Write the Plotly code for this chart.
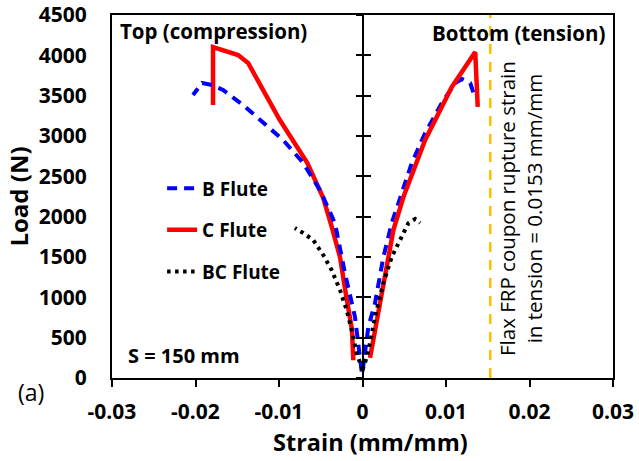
import plotly.graph_objects as go

# ---- data ----
b_top_strain = [-0.0001, -0.0009, -0.0021, -0.0033, -0.0051, -0.0071, -0.0095, -0.0119, -0.0143, -0.0167, -0.0180, -0.0192, -0.0203]
b_top_load = [80, 756, 1300, 1920, 2331, 2665, 2950, 3161, 3384, 3570, 3632, 3657, 3508]
b_bot_strain = [0.0000, 0.0007, 0.0015, 0.0025, 0.0035, 0.0045, 0.0059, 0.0075, 0.0095, 0.0111, 0.0119, 0.0129, 0.0135]
b_bot_load = [80, 632, 930, 1500, 1920, 2244, 2665, 3037, 3409, 3657, 3707, 3657, 3471]

c_top_strain = [-0.0011, -0.00126, -0.0020, -0.0027, -0.0037, -0.0047, -0.0066, -0.0099, -0.0137, -0.0149, -0.0179, -0.0179]
c_top_load = [220, 595, 1050, 1500, 1880, 2231, 2665, 3198, 3905, 4004, 4103, 3384]
c_bot_strain = [0.0009, 0.0015, 0.0021, 0.0029, 0.0037, 0.0049, 0.0075, 0.0107, 0.0123, 0.0135, 0.0138]
c_bot_load = [250, 595, 967, 1425, 1835, 2244, 2950, 3608, 3855, 4041, 3360]

bc_top_strain = [0.0000, -0.0007, -0.0013, -0.0019, -0.0027, -0.0037, -0.0047, -0.0059, -0.0071, -0.0081]
bc_top_load = [100, 310, 595, 843, 1091, 1339, 1525, 1710, 1797, 1860]
bc_bot_strain = [0.0000, 0.0003, 0.0009, 0.0015, 0.0025, 0.0035, 0.0045, 0.0055, 0.0063, 0.0069]
bc_bot_load = [100, 186, 434, 756, 1178, 1500, 1711, 1921, 1971, 1921]

rupture_strain = 0.0153
x_ticks = [-0.03, -0.02, -0.01, 0, 0.01, 0.02, 0.03]
x_tick_labels = ["-0.03", "-0.02", "-0.01", "0", "0.01", "0.02", "0.03"]
y_ticks = [0, 500, 1000, 1500, 2000, 2500, 3000, 3500, 4000, 4500]

FONT = "Open Sans"
BLUE = "#0000FF"
RED = "#FF0000"
BLACK = "#000000"
ORANGE = "#FFC000"

fig = go.Figure()

blue_line = dict(color=BLUE, width=4, dash="10px,7px")
red_line = dict(color=RED, width=4.5)
black_line = dict(color=BLACK, width=4, dash="3.5px,4.5px")

fig.add_trace(go.Scatter(x=b_bot_strain, y=b_bot_load, mode="lines", line=blue_line,
                         name="B Flute", legendgroup="b", showlegend=False))
fig.add_trace(go.Scatter(x=c_bot_strain, y=c_bot_load, mode="lines", line=red_line,
                         name="C Flute", legendgroup="c", showlegend=False))
fig.add_trace(go.Scatter(x=c_top_strain, y=c_top_load, mode="lines", line=red_line,
                         name="C Flute", legendgroup="c", legendrank=2))
fig.add_trace(go.Scatter(x=b_top_strain, y=b_top_load, mode="lines", line=blue_line,
                         name="B Flute", legendgroup="b", legendrank=1))
fig.add_trace(go.Scatter(x=bc_top_strain, y=bc_top_load, mode="lines", line=black_line,
                         name="BC Flute", legendgroup="bc", legendrank=3))
fig.add_trace(go.Scatter(x=bc_bot_strain, y=bc_bot_load, mode="lines", line=black_line,
                         name="BC Flute", legendgroup="bc", showlegend=False))
# helper traces so the vertical axis through strain = 0 is drawn
fig.add_trace(go.Scatter(x=[None], y=[None], yaxis="y2", showlegend=False, hoverinfo="skip"))
fig.add_trace(go.Scatter(x=[None], y=[None], yaxis="y3", showlegend=False, hoverinfo="skip"))

# rupture strain line
fig.add_shape(type="line", xref="x", yref="y", x0=rupture_strain, x1=rupture_strain,
              y0=0, y1=4500, line=dict(color=ORANGE, width=2.5, dash="10px,8px"), layer="below")

axis_font = dict(family=FONT, size=21, color=BLACK, weight="bold")
title_font = dict(family=FONT, size=24, color=BLACK, weight="bold")

fig.update_layout(
    width=639, height=461,
    margin=dict(l=112, r=26, t=15, b=83),
    paper_bgcolor="white", plot_bgcolor="white",
    font=dict(family=FONT, color=BLACK),
    xaxis=dict(range=[-0.03, 0.03], tickvals=x_ticks, ticktext=x_tick_labels,
               ticks="outside", ticklen=7, tickwidth=2, tickcolor=BLACK,
               showline=True, linewidth=2, linecolor=BLACK, mirror=True,
               showgrid=False, zeroline=False, tickfont=axis_font, automargin=False,
               ticklabelstandoff=7),
    yaxis=dict(range=[0, 4500], tickvals=y_ticks,
               ticks="outside", ticklen=19, tickcolor="rgba(0,0,0,0)",
               showline=True, linewidth=2, linecolor=BLACK, mirror=True,
               showgrid=False, zeroline=False, tickfont=axis_font, automargin=False,
               title=dict(text="Load (N)", font=title_font, standoff=3)),
    yaxis2=dict(range=[0, 4500], tickvals=y_ticks, overlaying="y", anchor="free", position=0.5,
                ticks="inside", ticklen=7, tickwidth=2, tickcolor=BLACK,
                showline=True, linewidth=2, linecolor=BLACK, showticklabels=False,
                showgrid=False, zeroline=False, automargin=False),
    yaxis3=dict(range=[0, 4500], tickvals=y_ticks, overlaying="y", anchor="free", position=0.5,
                ticks="outside", ticklen=7, tickwidth=2, tickcolor=BLACK,
                showline=False, showticklabels=False, showgrid=False, zeroline=False,
                automargin=False),
    legend=dict(x=0.1, xanchor="left", y=0.575, yanchor="top", bgcolor="rgba(0,0,0,0)",
                font=dict(family=FONT, size=19, color=BLACK, weight="bold"),
                tracegroupgap=14, traceorder="grouped"),
    showlegend=True,
)

# x-axis title (slightly right of centre, as in the reference)
fig.add_annotation(text="Strain (mm/mm)", xref="paper", yref="paper", x=(370 - 112) / 501,
                   y=(378 - 442) / 363, xanchor="center", yanchor="middle", showarrow=False,
                   font=dict(family=FONT, size=23.5, color=BLACK, weight="bold"))

ann_bold = dict(family=FONT, size=20.5, color=BLACK, weight="bold")
fig.add_annotation(text="Top (compression)", xref="paper", yref="paper", x=0.012, y=0.956,
                   xanchor="left", yanchor="middle", showarrow=False, font=ann_bold)
fig.add_annotation(text="Bottom (tension)", xref="paper", yref="paper", x=0.988, y=0.950,
                   xanchor="right", yanchor="middle", showarrow=False, font=ann_bold)
fig.add_annotation(text="S = 150 mm", xref="paper", yref="paper", x=0.028, y=0.063,
                   xanchor="left", yanchor="middle", showarrow=False,
                   font=dict(family=FONT, size=20, color=BLACK, weight="bold"))
fig.add_annotation(text="(a)", xref="paper", yref="paper", x=-0.192, y=-0.039,
                   xanchor="left", yanchor="middle", showarrow=False,
                   font=dict(family=FONT, size=23, color=BLACK))
fig.add_annotation(text="Flax FRP coupon rupture strain<br>in tension = 0.0153 mm/mm",
                   xref="paper", yref="paper", x=(520 - 112) / 501, y=(378 - 209) / 363,
                   xanchor="center", yanchor="middle", textangle=-90, showarrow=False,
                   align="center", font=dict(family=FONT, size=20.5, color=BLACK))

fig.write_html("out.html")
